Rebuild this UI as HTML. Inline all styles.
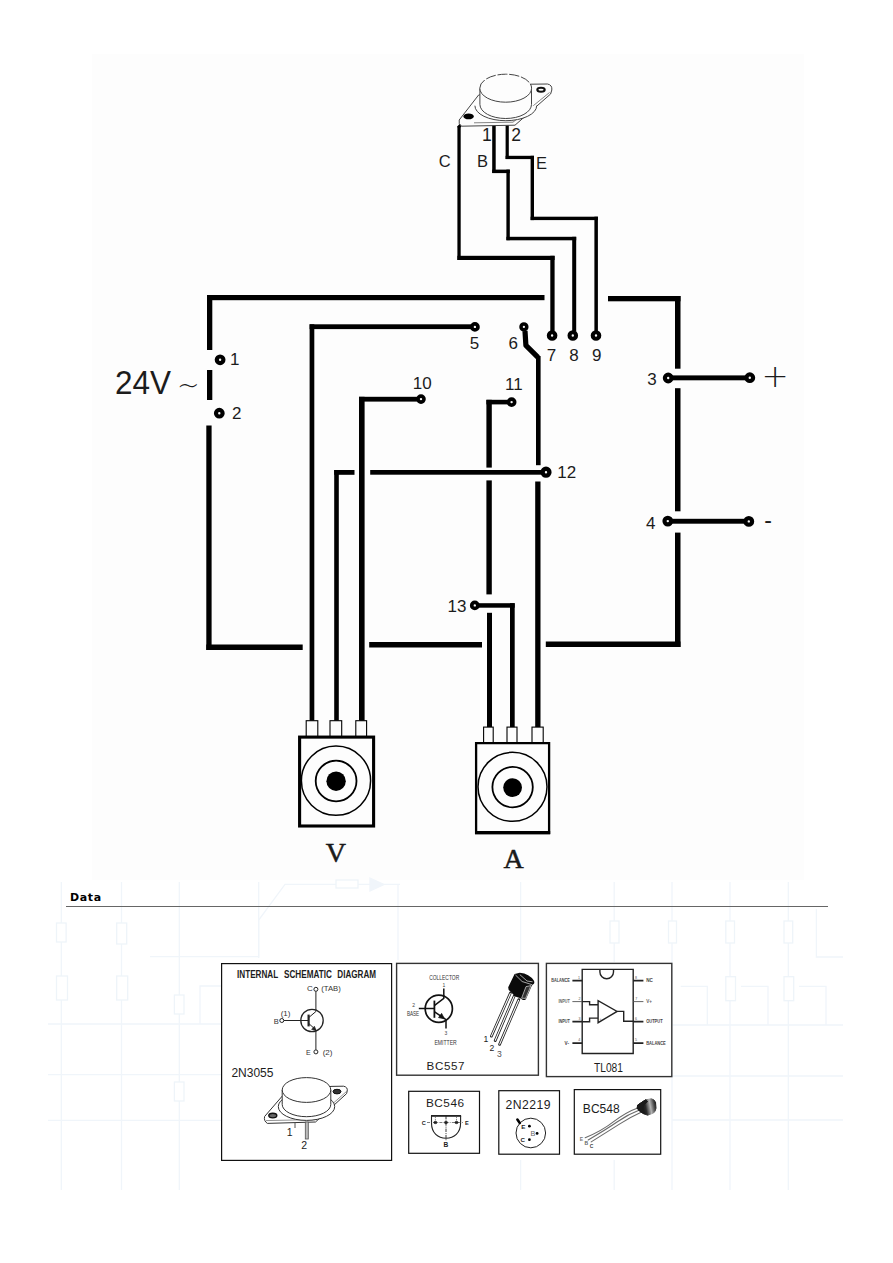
<!DOCTYPE html>
<html lang="en">
<head>
<meta charset="utf-8">
<title>Power supply wiring diagram</title>
<style>
html,body{margin:0;padding:0;background:#fff;}
body{width:893px;height:1263px;position:relative;overflow:hidden;font-family:"Liberation Sans",sans-serif;}
#panel{position:absolute;left:92px;top:54px;width:712px;height:826px;background:#fdfdfd;}
#main{position:absolute;left:0;top:0;width:893px;height:1263px;}
#main text{font-family:"Liberation Sans",sans-serif;fill:#1c1c1c;}
#main text.serif{font-family:"Liberation Serif",serif;}
h2{position:absolute;left:70px;top:890.7px;margin:0;font:bold 11px "DejaVu Sans","Liberation Sans",sans-serif;letter-spacing:.65px;color:#000;line-height:14px;}
#rule{position:absolute;left:66px;top:906px;width:762px;height:1px;background:#666;}
</style>
</head>
<body>
<div id="panel"></div>
<svg id="wm" viewBox="0 0 893 1263" width="893" height="1263" style="position:absolute;left:0;top:0">
<g fill="none" stroke="#f0f5fa" stroke-width="1.3">
  <path d="M61.3,882 V1190 M121.5,882 V1190 M179.3,882 V1190 M258.7,882 V958 M520.6,882 V962 M520.6,1160 V1190 M614.2,882 V962 M614.2,1160 V1190 M672,882 V1190 M730,882 V1190 M788.3,882 V1190 M398,884 V960"/>
  <path d="M48,1024 H221 M48,1074.6 H221 M48,1120.4 H221 M672,1025 H843 M672,1076 H843 M672,1120 H843"/>
  <path d="M150,956.7 H258.7 V920 L285,884.4 H400 M816.4,909 V957 H843 M200,1024 V986 H225 M680.7,986.4 H707.3 V1025 M741,986.4 H768 V1025 M799,986.4 H826 V1025"/>
  <path d="M370,878 L384,884.4 L370,891 Z" fill="#f0f5fa"/>
</g>
<g fill="#fff" stroke="#eef4f9" stroke-width="1.3">
  <rect x="56.5" y="923" width="9.6" height="19"/><rect x="116.7" y="923" width="10" height="21"/>
  <rect x="56.5" y="976" width="11" height="24"/><rect x="116.7" y="976" width="11" height="24"/>
  <rect x="174.4" y="995" width="9.6" height="19"/><rect x="174.4" y="1082" width="9.6" height="19"/>
  <rect x="610" y="921" width="9" height="22"/><rect x="668.5" y="921" width="8" height="22"/>
  <rect x="725.8" y="921" width="8.7" height="22"/><rect x="784" y="921" width="8.7" height="22"/>
  <rect x="725.8" y="976.7" width="9.7" height="24"/><rect x="784" y="976.7" width="9.7" height="24"/>
  <rect x="336" y="880" width="22" height="8"/>
</g>
</svg>

<svg id="main" viewBox="0 0 893 1263" width="893" height="1263">
<!-- ============ wiring ============ -->
<g fill="#000" stroke="none">
  <!-- outer frame -->
  <rect x="207" y="295" width="337.5" height="5.2"/>
  <rect x="608" y="296" width="72.5" height="5.3"/>
  <rect x="207" y="295" width="5.3" height="55"/>
  <rect x="207" y="370" width="5.3" height="30"/>
  <rect x="206.3" y="425.5" width="5.3" height="224.5"/>
  <rect x="206.3" y="644.5" width="96.4" height="5.5"/>
  <rect x="369.2" y="642" width="112.8" height="5.5"/>
  <rect x="545.8" y="641.5" width="134.7" height="5.5"/>
  <rect x="675" y="296" width="5.5" height="72.7"/>
  <rect x="675" y="388.2" width="5.5" height="123.1"/>
  <rect x="675" y="532.6" width="5.5" height="114.4"/>
  <!-- wire 5 -->
  <rect x="309.6" y="324.3" width="162" height="4.8"/>
  <rect x="309.6" y="324.3" width="4.7" height="396.5"/>
  <!-- wire 10 -->
  <rect x="359" y="396.8" width="59" height="4.8"/>
  <rect x="359" y="396.8" width="5.6" height="324"/>
  <!-- wire 12 -->
  <rect x="334.2" y="470" width="20.3" height="4.8"/>
  <rect x="370.2" y="470" width="172" height="4.7"/>
  <rect x="334.2" y="470" width="4.6" height="250.8"/>
  <!-- wire 11 -->
  <rect x="486.4" y="399.8" width="22" height="4.6"/>
  <rect x="486.4" y="399.8" width="5.4" height="67.8"/>
  <rect x="486.4" y="480.4" width="5.4" height="114"/>
  <rect x="487" y="612.8" width="5" height="114.4"/>
  <!-- wire 13 -->
  <rect x="478" y="603.2" width="36.7" height="4.5"/>
  <rect x="510" y="603.2" width="4.7" height="124"/>
  <!-- wire 6 -->
  <rect x="536" y="356" width="4.6" height="109.2"/>
  <rect x="535.2" y="481.5" width="5.3" height="245.7"/>
  <!-- 3 / 4 output bars -->
  <rect x="671" y="375.4" width="76" height="4.9"/>
  <rect x="671" y="518.8" width="75" height="4.9"/>
  <!-- transistor leads C B E -->
  <rect x="457.4" y="126" width="3.3" height="134"/>
  <rect x="457.4" y="255.8" width="97.2" height="4.2"/>
  <rect x="550.3" y="255.8" width="4.3" height="76"/>
  <rect x="492.2" y="125" width="3.5" height="48"/>
  <rect x="492.2" y="169.6" width="17.6" height="3.5"/>
  <rect x="506.4" y="169.6" width="3.4" height="70.6"/>
  <rect x="506.4" y="236.8" width="69.8" height="3.5"/>
  <rect x="572.2" y="236.8" width="4" height="95"/>
  <rect x="505.6" y="124.5" width="3.2" height="34.5"/>
  <rect x="505.6" y="155.8" width="28.4" height="3.3"/>
  <rect x="530.6" y="155.8" width="3.4" height="64.3"/>
  <rect x="530.6" y="216.7" width="67.3" height="3.4"/>
  <rect x="594.4" y="216.7" width="3.5" height="115"/>
</g>
<!-- diagonal bits -->
<g fill="none" stroke="#000" stroke-linecap="round" stroke-linejoin="round">
  <path d="M525,331 L525.9,345.4 L538,357.4" stroke-width="5.2" stroke-linecap="butt"/>
  <path d="M459,126.8 L467,118" stroke-width="3"/>
</g>
<!-- terminals -->
<g fill="#f6f6f6" stroke="#000">
  <circle cx="220.1" cy="359.8" r="3.3" stroke-width="4.2"/>
  <circle cx="219.3" cy="413.2" r="3.3" stroke-width="4.2"/>
  <circle cx="474.9" cy="326.9" r="3.05" stroke-width="3.7"/>
  <circle cx="523.9" cy="326.9" r="2.9" stroke-width="3.5"/>
  <circle cx="552.1" cy="335.5" r="3.25" stroke-width="4.1"/>
  <circle cx="572.8" cy="335.5" r="3.25" stroke-width="4.1"/>
  <circle cx="596" cy="335.5" r="3.25" stroke-width="4.1"/>
  <circle cx="421" cy="399.1" r="3" stroke-width="3.6"/>
  <circle cx="511.6" cy="402.1" r="3.05" stroke-width="3.7"/>
  <circle cx="546" cy="472.2" r="3.4" stroke-width="4.4"/>
  <circle cx="474.8" cy="605.4" r="3.05" stroke-width="3.7"/>
  <circle cx="668.2" cy="378" r="3.3" stroke-width="4.2"/>
  <circle cx="749.8" cy="377.7" r="3.3" stroke-width="4.2"/>
  <circle cx="667.8" cy="521.1" r="3.3" stroke-width="4.2"/>
  <circle cx="748.8" cy="521.4" r="3.3" stroke-width="4.2"/>
</g>
<!-- ============ potentiometers ============ -->
<g fill="#fdfdfd" stroke="#000">
  <!-- V pot tabs -->
  <rect x="306.2" y="720.7" width="11.6" height="16" stroke-width="1.1"/>
  <rect x="330" y="720.7" width="11.7" height="16" stroke-width="1.1"/>
  <rect x="355.8" y="720.7" width="10.8" height="16" stroke-width="1.1"/>
  <rect x="299.6" y="737.1" width="74" height="88.9" stroke-width="3.1"/>
  <circle cx="336" cy="780.7" r="34.6" stroke-width="1.5" fill="none"/>
  <circle cx="336.1" cy="781" r="20.4" stroke-width="1.8" fill="none"/>
  <circle cx="336.1" cy="781.2" r="9.7" fill="#000" stroke="none"/>
  <!-- A pot tabs -->
  <rect x="483.6" y="727.1" width="9.6" height="15.5" stroke-width="1.1"/>
  <rect x="507" y="727.1" width="10" height="15.5" stroke-width="1.1"/>
  <rect x="532" y="727.1" width="11.2" height="15.5" stroke-width="1.1"/>
  <path d="M476.1,743.2 H549.1 V832.8 H476.1 Z" stroke-width="2.3"/>
  <rect x="475" y="831" width="75.2" height="3.4" fill="#000" stroke="none"/>
  <circle cx="512.5" cy="786.8" r="34.5" stroke-width="1.5" fill="none"/>
  <circle cx="512.6" cy="787.1" r="20.2" stroke-width="1.8" fill="none"/>
  <circle cx="512.6" cy="787.6" r="9.4" fill="#000" stroke="none"/>
</g>
<text class="serif" x="335.8" y="862.4" font-size="28" text-anchor="middle" stroke="#111" stroke-width=".5">V</text>
<text class="serif" x="513.6" y="868.2" font-size="28" text-anchor="middle" stroke="#111" stroke-width=".5">A</text>

<!-- ============ TO-3 transistor at top ============ -->
<g fill="none" stroke="#444" stroke-width="1">
  <!-- base plate -->
  <path fill="#fdfdfd" d="M459.2,120 L478.6,95 L531,84.2 L547.5,84 Q552.5,85 551.8,90 L550.6,94 L515,125.2 L461.5,126.2 Q458.2,124 459.2,120 Z"/>
  <path d="M474,122.8 L513,122.2 L549.5,92.5" stroke="#777" stroke-width=".9"/>
  <!-- flange ring -->
  <path fill="#fdfdfd" d="M474.9,105.7 A30.9,15 0 0 0 536.7,105.7"/>
  <!-- can -->
  <path fill="#fdfdfd" d="M479.9,88.5 V104.4 A25.8,14.1 0 0 0 531.5,104.4 V88.5"/>
  <ellipse cx="505.7" cy="88.2" rx="25.9" ry="14" fill="#fdfdfd" stroke="none"/>
  <path d="M479.8,88.2 A25.9,14 0 0 1 531.6,88.2" stroke-dasharray="10 1.8"/>
  <path d="M479.8,88.2 A25.9,14 0 0 0 531.6,88.2"/>
  <!-- mount holes -->
  <ellipse cx="541" cy="89.8" rx="3.7" ry="2" stroke="#111" stroke-width="2.1" fill="#fdfdfd"/>
  <ellipse cx="468.6" cy="116.4" rx="5.2" ry="2.9" fill="#000" stroke="none"/>
</g>
<!-- ============ labels ============ -->
<g font-size="16.5">
  <text x="444.6" y="166.6" text-anchor="middle">C</text>
  <text x="482.4" y="166.6" text-anchor="middle">B</text>
  <text x="541.6" y="169.4" text-anchor="middle">E</text>
  <text x="486.8" y="141.3" text-anchor="middle" font-size="17.5">1</text>
  <text x="516.2" y="141.3" text-anchor="middle" font-size="17.5">2</text>
</g>
<g font-size="17" text-anchor="middle">
  <text x="234.8" y="365">1</text>
  <text x="236.8" y="418.8">2</text>
  <text x="652" y="385.3">3</text>
  <text x="650.8" y="528.6">4</text>
  <text x="474.6" y="348.9">5</text>
  <text x="513.2" y="349.4">6</text>
  <text x="551.6" y="360.8">7</text>
  <text x="573.9" y="360.8">8</text>
  <text x="596.8" y="361.2">9</text>
  <text x="422.2" y="388.5">10</text>
  <text x="513.8" y="390.2">11</text>
  <text x="566.8" y="477.7">12</text>
  <text x="457" y="612">13</text>
</g>
<text x="115" y="393.8" font-size="32.5" textLength="56" lengthAdjust="spacingAndGlyphs">24V</text>
<text x="177" y="393.8" font-size="27" style="font-family:'DejaVu Sans',sans-serif;font-weight:200">~</text>
<text x="761.5" y="387.1" font-size="32.5" style="font-family:'DejaVu Sans',sans-serif;font-weight:200">+</text>
<text x="768" y="528.4" font-size="23" text-anchor="middle">-</text>

<!-- ============ data boxes ============ -->
<g fill="#fff" stroke="#111" stroke-width="1.2">
  <rect x="221.6" y="963.6" width="170" height="196.8"/>
  <rect x="396.6" y="963.4" width="141.8" height="111.8" stroke="#333" stroke-width="1.4"/>
  <rect x="546.4" y="963.4" width="125.4" height="113.2" stroke="#333" stroke-width="1.4"/>
  <rect x="408.7" y="1091.3" width="70.8" height="62"/>
  <rect x="498.8" y="1090.7" width="60.7" height="63.5"/>
  <rect x="574.3" y="1089.6" width="86.4" height="64.6"/>
</g>
<!-- box 1 : 2N3055 -->
<g font-size="10.3" font-weight="bold">
  <text x="237" y="977.9" textLength="41.2" lengthAdjust="spacingAndGlyphs">INTERNAL</text>
  <text x="284" y="977.9" textLength="48" lengthAdjust="spacingAndGlyphs">SCHEMATIC</text>
  <text x="337.3" y="977.9" textLength="38.8" lengthAdjust="spacingAndGlyphs">DIAGRAM</text>
</g>
<g fill="none" stroke="#222" stroke-width="1">
  <circle cx="312" cy="1020.5" r="11.2" stroke-width="1.3"/>
  <path d="M283.8,1020.5 H308.5 M315.9,991.3 V1011.5 L308.8,1017.5 M308.8,1023.5 L315.9,1030 V1049.8"/>
  <path d="M308.6,1014.6 V1026.4" stroke-width="2.2"/>
  <path d="M316.2,1030.4 L311.6,1029.4 L314.4,1026.2 Z" fill="#222" stroke-width=".6"/>
  <circle cx="315.9" cy="989.3" r="2" fill="#fff"/>
  <circle cx="315.9" cy="1051.9" r="2" fill="#fff"/>
  <circle cx="281.8" cy="1020.5" r="2" fill="#fff"/>
</g>
<g font-size="8" fill="#333" text-anchor="middle">
  <text x="310" y="991.4" style="fill:#333">C</text>
  <text x="331" y="991.2" style="fill:#333" textLength="19.5" lengthAdjust="spacingAndGlyphs">(TAB)</text>
  <text x="285.6" y="1015.6" style="fill:#333">(1)</text>
  <text x="276.2" y="1023.8" style="fill:#333" font-size="7.5">B</text>
  <text x="308.4" y="1055" style="fill:#333" font-size="7">E</text>
  <text x="327.6" y="1055.2" style="fill:#333">(2)</text>
</g>
<text x="231.4" y="1077.3" font-size="12" textLength="42" lengthAdjust="spacing">2N3055</text>
<g fill="none" stroke="#333" stroke-width="1">
  <path fill="#fff" d="M264.6,1116.5 L282.5,1095.8 L331,1086.4 L343.6,1086.2 Q348,1087.2 347.2,1091 L346.6,1093.6 L315.5,1122 L267.4,1123.4 Q263.6,1121 264.6,1116.5 Z"/>
  <path d="M266,1120.6 L314.8,1119.6 L346.8,1091.2" stroke="#777" stroke-width=".8"/>
  <ellipse cx="306.5" cy="1106.6" rx="28.2" ry="13.8" fill="#fff"/>
  <path fill="#fff" d="M282.2,1090 V1104.4 A24.3,12.3 0 0 0 330.8,1104.4 V1090"/>
  <ellipse cx="306.5" cy="1090" rx="24.3" ry="12.4" fill="#fff"/>
  <ellipse cx="337" cy="1091.6" rx="4" ry="2.3" fill="#333" stroke="#111" stroke-width="1"/>
  <ellipse cx="272.8" cy="1115.6" rx="4" ry="2.3" fill="#666" stroke="#111" stroke-width="1.4"/>
  <path d="M295,1122.6 V1128" stroke="#555" stroke-width="1"/>
  <rect x="305.3" y="1122" width="3" height="17" fill="#bbb" stroke="#555" stroke-width=".8"/>
</g>
<text x="289.6" y="1136.4" font-size="10.5" text-anchor="middle">1</text>
<text x="304.2" y="1149.2" font-size="10.5" text-anchor="middle">2</text>
<!-- box 2 : BC557 -->
<g fill="none" stroke="#111" stroke-width="1.5">
  <circle cx="438.8" cy="1008.8" r="13.6" stroke-width="1.7"/>
  <path d="M418.8,1008.5 H434"/>
  <path d="M434.4,1000.6 V1017.8" stroke-width="1.8"/>
  <path d="M434.6,1005.4 L443.8,998.4 V988.4"/>
  <path d="M434.6,1011.8 L446,1019.6 V1028.6"/>
  <path d="M444.4,1018.8 L438.6,1017.6 L441.6,1013.4 Z" fill="#111" stroke-width=".8"/>
</g>
<g font-size="7.4" text-anchor="middle" style="fill:#333">
  <text x="444.2" y="980.1" style="fill:#333" textLength="30" lengthAdjust="spacingAndGlyphs">COLLECTOR</text>
  <text x="443.8" y="987" style="fill:#444" font-size="5">1</text>
  <text x="413.6" y="1006.6" style="fill:#444" font-size="5">2</text>
  <text x="413" y="1015.9" style="fill:#333" textLength="12.2" lengthAdjust="spacingAndGlyphs">BASE</text>
  <text x="446" y="1035.2" style="fill:#444" font-size="5">3</text>
  <text x="445.6" y="1044.6" style="fill:#333" textLength="22.4" lengthAdjust="spacingAndGlyphs">EMITTER</text>
</g>
<text x="426.6" y="1069.8" font-size="11.6" textLength="37.8" lengthAdjust="spacing">BC557</text>
<!-- TO-92 -->
<g stroke="#222" stroke-width="2.7" fill="none" stroke-linecap="round">
  <path d="M510.4,993 L491.4,1036.2 M514.2,996 L495.2,1040.6 M518.8,999.6 L499.6,1044.4"/>
</g>
<g stroke="#fff" stroke-width="1.1" fill="none" stroke-linecap="round">
  <path d="M510.2,993.6 L491.5,1035.9 M514,996.6 L495.3,1040.3 M518.6,1000.2 L499.7,1044.1"/>
</g>
<path d="M514.6,974 L519.8,972.7 Q524.6,972.8 528.1,975.2 Q532.2,977.6 533.8,980.4 Q534.8,982 534.1,983.4 L531.9,985.6 L525.9,999.2 Q524.6,1000.4 522.9,1000 L519.8,998.1 L515.3,996.6 L508.6,989.8 L508.2,987.2 Z" fill="#0a0a0a"/>
<path d="M515.4,974.9 L522.1,981.5 L532.4,984.8 M519.8,974.6 L527,981 L532.6,981.8" fill="none" stroke="#e8e8e8" stroke-width=".7"/>
<path d="M526,986.6 L531,985.6 L525.6,998.4 L521.6,998.2 Z" fill="#333" stroke="#ddd" stroke-width=".7"/>
<g font-size="8.6" text-anchor="middle">
  <text x="485.8" y="1042.4">1</text>
  <text x="492" y="1051.2">2</text>
  <text x="499.3" y="1056.8" style="fill:#555">3</text>
</g>
<!-- box 3 : TL081 -->
<g fill="none" stroke="#222" stroke-width="1.4">
  <path d="M582.2,969.4 H633.2 V1053.5 H582.2 Z" fill="#fff"/>
  <path d="M599.9,969.4 V972 A6.8,6.8 0 0 0 613.5,972 V969.4"/>
  <path d="M572.4,980.6 H582.2 M572.4,1021.7 H582.2 M572.4,1043.2 H582.2 M633.2,980.6 H643.4 M633.2,1021.7 H643.4 M633.2,1043.2 H643.4" stroke-width="1.7"/>
  <path d="M572.4,1001.6 H582.2 M633.2,1001.6 H643.4" stroke-width=".9" stroke="#555"/>
  <path d="M582.2,1001.6 H589.6 V1004.7 H598.1 M582.2,1021.7 H589.6 V1018.1 H598.1"/>
  <path d="M598.1,1000.7 V1022.7 L617.1,1011.4 Z" fill="#fff"/>
  <path d="M617.1,1011.4 H623.7 V1021.3 H633.2"/>
</g>
<g font-size="4.6" font-weight="bold" style="fill:#444">
  <text x="551.2" y="982.3" style="fill:#444" textLength="18.6" lengthAdjust="spacingAndGlyphs">BALANCE</text>
  <text x="558.4" y="1003.3" style="fill:#666" textLength="11.4" lengthAdjust="spacingAndGlyphs">INPUT</text>
  <text x="558.4" y="1023.4" style="fill:#444" textLength="11.4" lengthAdjust="spacingAndGlyphs">INPUT</text>
  <text x="564.6" y="1044.9" style="fill:#444">V-</text>
  <text x="646.2" y="982.3" style="fill:#444">NC</text>
  <text x="646.2" y="1003.3" style="fill:#666">V+</text>
  <text x="646.2" y="1023.4" style="fill:#444" textLength="16.4" lengthAdjust="spacingAndGlyphs">OUTPUT</text>
  <text x="646.2" y="1044.9" style="fill:#444" textLength="19.6" lengthAdjust="spacingAndGlyphs">BALANCE</text>
</g>
<g font-size="3.6" style="fill:#555" text-anchor="middle">
  <text x="579" y="979" style="fill:#555">1</text>
  <text x="579.6" y="999.8" style="fill:#555">2</text>
  <text x="579.6" y="1019.8" style="fill:#555">3</text>
  <text x="579.2" y="1041" style="fill:#555">4</text>
  <text x="636" y="978.6" style="fill:#555">8</text>
  <text x="636.2" y="999.8" style="fill:#555">7</text>
  <text x="636" y="1019.8" style="fill:#555">6</text>
  <text x="636" y="1041" style="fill:#555">5</text>
  <text x="600.6" y="1019.6" style="fill:#555">+</text>
</g>
<text x="594" y="1071.6" font-size="12.4" textLength="29" lengthAdjust="spacingAndGlyphs">TL081</text>

<!-- box 4 : BC546 -->
<text x="426" y="1107.3" font-size="11.8" textLength="38" lengthAdjust="spacing">BC546</text>
<g fill="none" stroke="#222" stroke-width="1.1">
  <path d="M431.5,1116 V1123 C431.5,1133 438,1138.2 446,1138.2 C454,1138.2 460.6,1133 460.6,1123 V1116" fill="#fff"/>
  <path d="M431,1115.9 H461.1" stroke-width="1.8"/>
  <path d="M427,1122.5 H463" stroke-width=".7" stroke-dasharray="3 1.2 .8 1.2" stroke="#444"/>
  <path d="M446,1116 V1140.4" stroke-width=".9" stroke-dasharray="3.4 1 .9 1" stroke="#222"/>
  <path d="M435.4,1116.5 V1120.4 M456.5,1116.5 V1120.4" stroke-width=".7" stroke="#555" stroke-dasharray="1.6 .8"/>
  <ellipse cx="435.4" cy="1122.5" rx="1.6" ry="1.2" fill="#222" stroke-width=".6"/>
  <ellipse cx="446" cy="1122.5" rx="1.6" ry="1.2" fill="#222" stroke-width=".6"/>
  <ellipse cx="456.5" cy="1122.5" rx="1.6" ry="1.2" fill="#222" stroke-width=".6"/>
</g>
<g font-size="5.6" font-weight="bold" text-anchor="middle">
  <text x="423.8" y="1124.9">C</text>
  <text x="466.8" y="1124.9">E</text>
  <text x="446" y="1147" font-size="6.6">B</text>
</g>
<!-- box 5 : 2N2219 -->
<text x="505.6" y="1108.7" font-size="12.2" textLength="45" lengthAdjust="spacing">2N2219</text>
<g fill="none" stroke="#222" stroke-width="1">
  <circle cx="530.8" cy="1133" r="14.8"/>
  <path d="M517.4,1119.6 L519.8,1123" stroke="#000" stroke-width="2.6" stroke-linecap="round"/>
  <circle cx="529.4" cy="1126.2" r="1.4" fill="#000" stroke="none"/>
  <circle cx="537.1" cy="1133.4" r="1.4" fill="#000" stroke="none"/>
  <circle cx="529.4" cy="1139.7" r="1.4" fill="#000" stroke="none"/>
</g>
<g font-size="6.2" font-weight="bold" text-anchor="middle">
  <text x="523.2" y="1128.7">E</text>
  <text x="533" y="1136" style="fill:#666" font-size="7.2" font-weight="normal">B</text>
  <text x="522.8" y="1142">C</text>
</g>
<!-- box 6 : BC548 -->
<defs>
  <linearGradient id="cyl" gradientUnits="userSpaceOnUse" x1="643.6" y1="1108" x2="656" y2="1105.6">
    <stop offset="0" stop-color="#1c1c1c"/><stop offset=".18" stop-color="#2a2a2a"/><stop offset=".55" stop-color="#b4b4b4"/><stop offset=".82" stop-color="#555"/><stop offset="1" stop-color="#1c1c1c"/>
  </linearGradient>
</defs>
<text x="582.8" y="1113.3" font-size="12" textLength="37" lengthAdjust="spacing">BC548</text>
<g stroke="#6a6a6a" stroke-width="1.1" fill="none" stroke-linecap="round">
  <path d="M639,1107.4 Q626,1112 614,1121.4 T585.2,1137.8"/>
  <path d="M640.6,1109.6 Q628,1114.4 617,1122 T588.2,1139.9"/>
  <path d="M642.6,1111.6 Q630,1117.4 619,1124.4 T591.2,1141.9"/>
</g>
<path d="M637.7,1105.1 L645.6,1099.8 L651.4,1098.8 Q654.6,1099.6 655.5,1102.3 L656,1108.2 Q655.4,1111.6 653.5,1113 L647.6,1115.2 L643.5,1113.6 L639.6,1111.1 L637.2,1108.2 Z" fill="url(#cyl)" stroke="url(#cyl)" stroke-width="1" stroke-linejoin="round"/>
<path d="M637.7,1105.1 L645.6,1099.8 L647.6,1101.6 Q643.6,1104.4 642.6,1108 Q643,1111.4 645,1113.9 L643.5,1113.6 L639.6,1111.1 L637.2,1108.2 Z" fill="#1a1a1a" stroke="#1a1a1a" stroke-width="1" stroke-linejoin="round"/>
<g font-size="5" font-weight="bold" text-anchor="middle">
  <text x="581.4" y="1141" style="fill:#777">E</text>
  <text x="586.4" y="1144.7" style="fill:#666">B</text>
  <text x="591.5" y="1148.3" style="fill:#444">C</text>
</g>
</svg>
<h2>Data</h2>
<div id="rule"></div>
</body>
</html>
